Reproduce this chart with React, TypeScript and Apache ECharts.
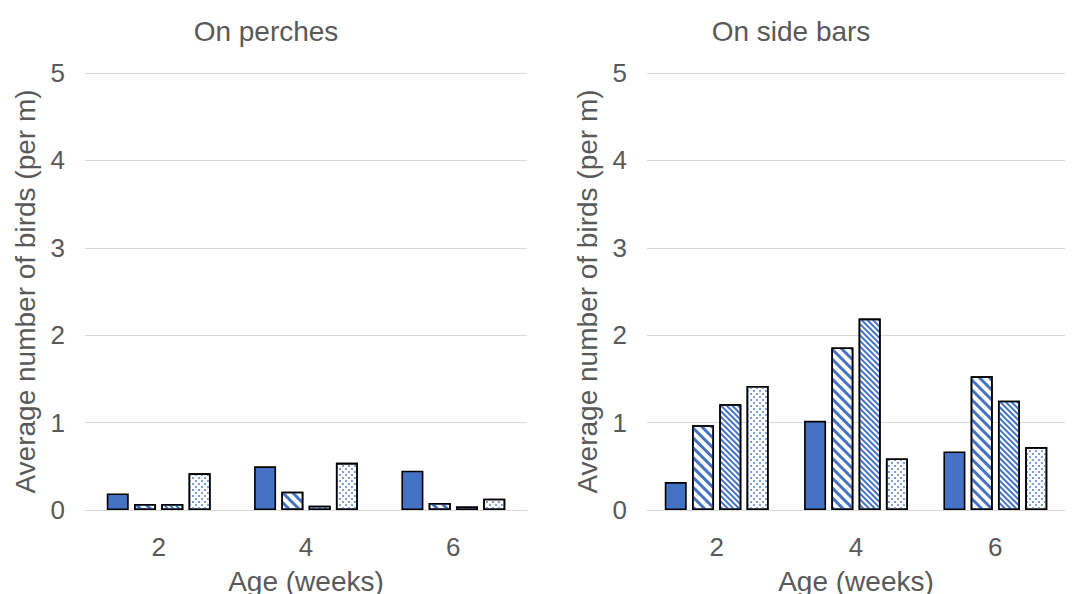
import React, { useEffect, useRef } from "react";
import * as echarts from "echarts";

const categories = ["2", "4", "6"];
const yTicks = [0, 1, 2, 3, 4, 5];
const panelTitles = ["On perches", "On side bars"];
const yName = "Average number of birds (per m)";
const xName = "Age (weeks)";

// On perches
const perches1 = [0.19, 0.5, 0.45];
const perches2 = [0.07, 0.21, 0.08];
const perches3 = [0.07, 0.05, 0.04];
const perches4 = [0.42, 0.54, 0.13];

// On side bars
const side1 = [0.32, 1.02, 0.67];
const side2 = [0.97, 1.86, 1.53];
const side3 = [1.21, 2.19, 1.25];
const side4 = [1.42, 0.59, 0.72];

const BLUE = "#4472C4";
const TEXT = "#595959";
const FONT = "Liberation Sans, Arial, sans-serif";

const decals: any[] = [
  null,
  {
    symbol: "rect",
    symbolSize: 1,
    dashArrayX: [1, 0],
    dashArrayY: [3, 4],
    rotation: Math.PI / 4,
    color: BLUE,
    backgroundColor: "#ffffff",
  },
  {
    symbol: "rect",
    symbolSize: 1,
    dashArrayX: [1, 0],
    dashArrayY: [2, 2],
    rotation: Math.PI / 4,
    color: BLUE,
    backgroundColor: "#ffffff",
  },
  {
    symbol: "rect",
    symbolSize: 1,
    dashArrayX: [
      [2, 4],
      [0, 3, 2, 1],
    ],
    dashArrayY: [2, 1],
    rotation: 0,
    color: "#7fa0dc",
    backgroundColor: "#ffffff",
  },
];

export default function App() {
  const ref = useRef<HTMLDivElement>(null);
  useEffect(() => {
    if (!ref.current) return;
    const chart = echarts.init(ref.current, undefined, { renderer: "svg" });
    const grids = [
      { left: 85, width: 442, top: 73, height: 437, outerBoundsMode: "none", containLabel: false },
      { left: 647, width: 418, top: 73, height: 437, outerBoundsMode: "none", containLabel: false },
    ];
    const titleCenters = [261, 786];
    const panels = [
      [perches1, perches2, perches3, perches4],
      [side1, side2, side3, side4],
    ];
    const xAxes = grids.map((_, i) => ({
      type: "category",
      gridIndex: i,
      data: categories,
      name: xName,
      nameLocation: "middle",
      nameGap: 57,
      nameTextStyle: { color: TEXT, fontSize: 28, fontFamily: FONT },
      axisLine: { show: true, lineStyle: { color: "#d9d9d9", width: 1 } },
      axisTick: { show: false },
      axisLabel: { color: TEXT, fontSize: 26, fontFamily: FONT, margin: 24 },
    }));
    const yAxes = grids.map((_, i) => ({
      type: "value",
      gridIndex: i,
      min: yTicks[0],
      max: yTicks[yTicks.length - 1],
      interval: 1,
      name: yName,
      nameLocation: "middle",
      nameGap: 46,
      nameTextStyle: { color: TEXT, fontSize: 28, fontFamily: FONT },
      axisLine: { show: false },
      axisTick: { show: false },
      splitLine: { lineStyle: { color: "#d9d9d9", width: 1 } },
      axisLabel: { color: TEXT, fontSize: 26, fontFamily: FONT, margin: 20 },
    }));
    const series: any[] = [];
    panels.forEach((vals, gi) => {
      vals.forEach((data, si) => {
        series.push({
          type: "bar",
          name: `Series ${si + 1}`,
          xAxisIndex: gi,
          yAxisIndex: gi,
          data,
          barWidth: 22,
          barGap: "24%",
          itemStyle: {
            color: si === 0 ? BLUE : "#ffffff",
            borderColor: "#000000",
            borderWidth: 1.6,
            decal: decals[si] || undefined,
          },
        });
      });
    });
    chart.setOption({
      animation: false,
      backgroundColor: "#ffffff",
      title: panelTitles.map((t, i) => ({
        text: t,
        left: titleCenters[i],
        top: 12,
        textAlign: "center",
        textStyle: { color: TEXT, fontSize: 28, fontWeight: "normal", fontFamily: FONT },
      })),
      grid: grids,
      xAxis: xAxes,
      yAxis: yAxes,
      series,
    });
    return () => chart.dispose();
  }, []);
  return (
    <div
      ref={ref}
      style={{ position: "fixed", left: 0, top: 0, width: 1079, height: 594 }}
    />
  );
}
